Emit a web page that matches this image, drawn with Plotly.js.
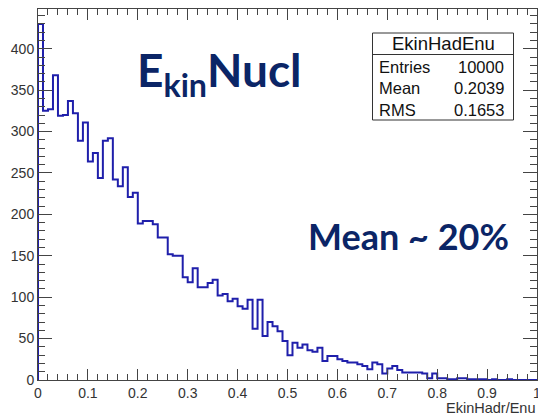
<!DOCTYPE html>
<html><head><meta charset="utf-8">
<script src="https://cdn.plot.ly/plotly-3.0.1.min.js"></script>
<style>html,body{margin:0;padding:0;background:#fff;}#chart{width:538px;height:416px;}</style>
</head><body><div id="chart"></div>
<script>
const histName = "EkinHadEnu";
const xAxisTitle = "EkinHadr/Enu";
const binLow = 0, binHigh = 1;
const counts = [
  430,325,327,368,319,320,337,322,289,311,
  264,274,244,289,292,242,234,257,221,226,
  189,192,192,188,172,172,152,150,150,124,
  118,135,112,112,117,121,102,104,95,98,
  89,86,97,62,97,53,70,65,59,47,
  30,45,39,43,36,34,39,23,29,29,
  25,23,21,21,19,17,13,21,19,8,
  14,17,12,9,9,9,9,8,2,8,
  2,2,1,1,2,2,1,1,1,1,
  0,1,0,0,1,0,0,0,0,0
];
const statLabels = ["Entries", "Mean", "RMS"];
const statValues = ["10000", "0.2039", "0.1653"];
const xTickVals = [0,0.1,0.2,0.3,0.4,0.5,0.6,0.7,0.8,0.9,1];
const xTickText = ["0","0.1","0.2","0.3","0.4","0.5","0.6","0.7","0.8","0.9","1"];
const yTickVals = [0,50,100,150,200,250,300,350,400];
const titleMain = "E<sub>kin</sub>Nucl";
const noteText = "Mean ~ 20%";

const nBins = counts.length;
const bw = (binHigh - binLow) / nBins;
const xs = [binLow], ys = [0];
for (let i = 0; i < nBins; i++) { xs.push(binLow + i * bw); ys.push(counts[i]); }
xs.push(binHigh); ys.push(0);

const trace = {
  x: xs, y: ys, type: 'scatter', mode: 'lines',
  line: {shape: 'hv', color: '#1f1fab', width: 2},
  hoverinfo: 'skip'
};

// pixel helpers (plot area: x 38..537, y 9..380)
const PL = 38, PW = 499, PB = 380, PH = 371;
const px = v => (v - PL) / PW;
const py = v => (PB - v) / PH;

const tickFont = {family: 'Liberation Sans, Arial, sans-serif', size: 14, color: '#333'};
const statFont = {family: 'Liberation Sans, Arial, sans-serif', size: 16.5, color: '#111'};
const bigFont = {family: 'Lato, Open Sans, sans-serif', size: 46, color: '#0b2566', weight: 700};

const annotations = [];
annotations.push({xref:'paper', yref:'paper', x: px(443), y: py(44), text: histName,
  showarrow:false, xanchor:'center', yanchor:'middle',
  font: {family: statFont.family, size: 18.5, color: statFont.color}});
statLabels.forEach((lab, i) => {
  const yy = py(66.7 + i * 21.7);
  annotations.push({xref:'paper', yref:'paper', x: px(377), y: yy, text: lab,
    showarrow:false, xanchor:'left', yanchor:'middle', font: statFont});
  annotations.push({xref:'paper', yref:'paper', x: px(506), y: yy, text: statValues[i],
    showarrow:false, xanchor:'right', yanchor:'middle', font: statFont});
});
annotations.push({xref:'paper', yref:'paper', x: px(135), y: py(73), text: titleMain,
  showarrow:false, xanchor:'left', yanchor:'middle', font: bigFont});
annotations.push({xref:'paper', yref:'paper', x: px(408), y: py(236), text: noteText,
  showarrow:false, xanchor:'center', yanchor:'middle',
  font: {family: 'Lato, Open Sans, sans-serif', size: 36, color: '#0b2566', weight: 700}});
annotations.push({xref:'paper', yref:'paper', x: 1, y: py(408), text: xAxisTitle,
  showarrow:false, xanchor:'right', yanchor:'middle',
  font: {family: 'Liberation Sans, Arial, sans-serif', size: 14.5, color: '#333'}});

const shapes = [
  {type:'rect', xref:'paper', yref:'paper', x0: px(372.5), x1: px(513.5), y0: py(120), y1: py(33),
   line:{color:'#333', width:1}, fillcolor:'#fff', layer:'above'},
  {type:'line', xref:'paper', yref:'paper', x0: px(372.5), x1: px(513.5), y0: py(54.5), y1: py(54.5),
   line:{color:'#333', width:1}, layer:'above'}
];

const layout = {
  width: 538, height: 416,
  margin: {l: PL, r: 538 - PL - PW, t: PB - PH, b: 416 - PB, pad: 0},
  paper_bgcolor: '#fff', plot_bgcolor: '#fff',
  showlegend: false,
  xaxis: {
    range: [binLow, binHigh], tickmode: 'array', tickvals: xTickVals, ticktext: xTickText,
    ticks: 'inside', ticklen: 11, tickwidth: 1, tickcolor: '#444',
    minor: {ticks: 'inside', dtick: 0.02, ticklen: 6, tickwidth: 1, tickcolor: '#444', showgrid: false},
    showline: true, linecolor: '#444', linewidth: 1, mirror: 'ticks',
    showgrid: false, zeroline: false, tickfont: tickFont, fixedrange: true,
    ticklabeloverflow: 'allow'
  },
  yaxis: {
    range: [0, 448], tickmode: 'array', tickvals: yTickVals,
    ticks: 'inside', ticklen: 14, tickwidth: 1, tickcolor: '#444',
    minor: {ticks: 'inside', dtick: 10, ticklen: 7, tickwidth: 1, tickcolor: '#444', showgrid: false},
    showline: true, linecolor: '#444', linewidth: 1, mirror: 'ticks',
    showgrid: false, zeroline: false, tickfont: tickFont, fixedrange: true
  },
  annotations: annotations,
  shapes: shapes
};

Plotly.newPlot('chart', [trace], layout, {staticPlot: true, displayModeBar: false});
</script>
</body></html>
